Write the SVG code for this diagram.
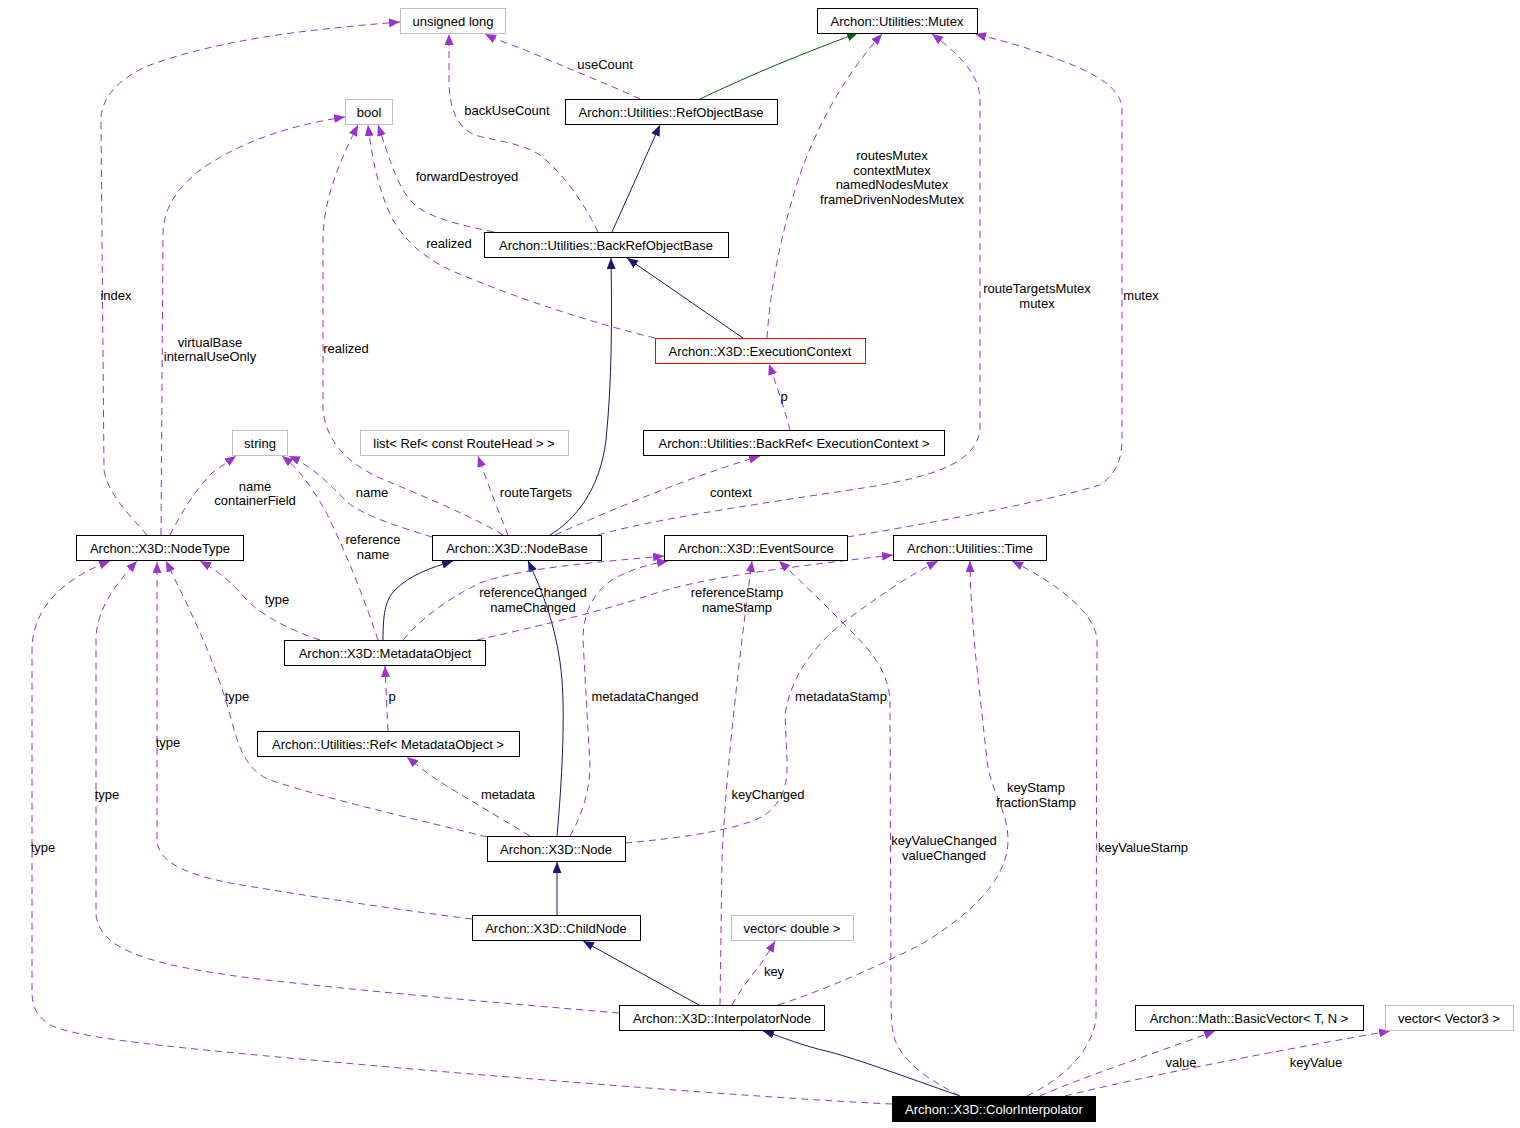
<svg xmlns="http://www.w3.org/2000/svg" width="1520" height="1128" viewBox="0 0 1520 1128">
<style>
text{font-family:"Liberation Sans",Arial,sans-serif;font-size:13px;fill:#000;}
.n rect{fill:#fff;stroke:#000;stroke-width:1;}
.n text{text-anchor:middle;dominant-baseline:central;}
.g rect{stroke:#bfbfbf;}
.r rect{stroke:#ff0000;}
.k rect{fill:#000;stroke:#000;}
.k text{fill:#fff;}
.u{fill:none;stroke:#9a32cd;stroke-width:1;stroke-dasharray:7,5;marker-end:url(#ap);}
.i{fill:none;stroke:#191970;stroke-width:1;marker-end:url(#an);}
.ig{fill:none;stroke:#006400;stroke-width:1;marker-end:url(#ag);}
.l text{text-anchor:middle;dominant-baseline:central;}
</style>
<defs>
<marker id="ap" markerUnits="userSpaceOnUse" markerWidth="11" markerHeight="9" viewBox="0 0 11 9" refX="11" refY="4.5" orient="auto"><path d="M0,0 L11,4.5 L0,9 z" fill="#9a32cd"/></marker>
<marker id="an" markerUnits="userSpaceOnUse" markerWidth="11" markerHeight="9" viewBox="0 0 11 9" refX="11" refY="4.5" orient="auto"><path d="M0,0 L11,4.5 L0,9 z" fill="#191970"/></marker>
<marker id="ag" markerUnits="userSpaceOnUse" markerWidth="11" markerHeight="9" viewBox="0 0 11 9" refX="11" refY="4.5" orient="auto"><path d="M0,0 L11,4.5 L0,9 z" fill="#006400"/></marker>
</defs>
<rect width="1520" height="1128" fill="#fff"/>
<g id="connectors">
<path class="ig" d="M700,99 C740,80 790,58 858,33"/>
<path class="i" d="M612,232 L660,125"/>
<path class="i" d="M743,338 L627,258"/>
<path class="i" d="M550,535 C575,520 600,490 606,440 C612,380 612,320 611,258"/>
<path class="i" d="M383,640 C383,615 385,600 395,590 C410,575 430,568 453,561"/>
<path class="i" d="M557,836 C562,780 565,720 562,680 C558,630 542,590 528,561"/>
<path class="i" d="M557,915 L557,862"/>
<path class="i" d="M699,1005 L583,941"/>
<path class="i" d="M960,1096 C900,1075 860,1060 830,1052 C800,1045 785,1038 763,1031"/>
<path class="u" d="M147,535 C130,515 108,495 104,470 L101,120 C101,100 115,80 150,65 C220,40 300,30 400,22"/>
<path class="u" d="M161,535 L163,235 C163,210 175,190 200,170 C240,142 290,125 345,117"/>
<path class="u" d="M503,535 C470,515 420,495 380,478 C345,462 326,440 323,410 L323,240 C323,200 340,160 358,125"/>
<path class="u" d="M494,232 C460,225 430,218 415,205 C398,190 390,160 378,125"/>
<path class="u" d="M655,338 C600,325 520,300 450,270 C420,255 405,240 393,220 C380,195 372,160 368,125"/>
<path class="u" d="M598,232 C585,205 565,175 540,155 C520,142 490,140 475,135 C458,128 450,110 449,85 L449,34"/>
<path class="u" d="M640,99 C610,85 560,65 530,52 C510,44 497,40 485,34"/>
<path class="u" d="M767,338 C770,290 780,240 795,190 C810,140 840,80 882,34"/>
<path class="u" d="M598,535 C650,520 750,505 850,490 C930,478 975,465 980,430 L980,100 C980,75 960,55 932,34"/>
<path class="u" d="M508,535 C500,515 490,490 478,456"/>
<path class="u" d="M555,535 C600,515 680,480 760,456"/>
<path class="u" d="M847,537 C950,520 1050,500 1100,485 C1115,475 1122,460 1122,440 L1122,110 C1122,90 1100,75 1060,60 C1030,48 1000,40 975,34"/>
<path class="u" d="M790,430 C785,410 778,390 769,364"/>
<path class="u" d="M170,535 C180,515 195,490 212,473 L236,456"/>
<path class="u" d="M432,537 C400,527 360,515 345,500 C330,485 315,468 289,456"/>
<path class="u" d="M378,640 C365,600 345,550 325,510 C310,485 300,470 282,456"/>
<path class="u" d="M320,640 C290,630 260,615 245,598 C232,583 220,572 200,561"/>
<path class="u" d="M403,640 C420,620 445,600 480,583 C520,568 600,562 664,556"/>
<path class="u" d="M477,640 C530,628 600,612 650,595 C700,578 780,568 893,555"/>
<path class="u" d="M388,731 C387,710 386,690 385,666"/>
<path class="u" d="M487,837 C420,820 330,800 270,780 C245,770 238,745 230,715 C215,660 190,610 166,561"/>
<path class="u" d="M530,836 C500,818 470,800 450,788 C430,776 418,766 407,757"/>
<path class="u" d="M570,836 C582,815 590,790 590,765 L583,640 C583,610 595,590 615,578 C635,568 650,564 668,561"/>
<path class="u" d="M625,843 C680,838 740,830 765,815 C785,800 788,780 787,760 L785,715 C790,680 810,650 840,625 C880,595 910,575 938,561"/>
<path class="u" d="M472,919 C400,910 300,895 230,883 C180,873 158,860 157,840 L157,562"/>
<path class="u" d="M619,1013 C500,1003 350,990 250,978 C150,965 100,950 96,915 L96,640 C96,610 115,585 137,561"/>
<path class="u" d="M892,1104 C800,1100 600,1085 400,1068 C200,1050 80,1040 50,1025 C35,1015 32,1005 32,990 L32,650 C32,610 60,580 110,561"/>
<path class="u" d="M720,1005 L722,860 C725,780 740,650 752,561"/>
<path class="u" d="M778,1005 C830,988 880,965 920,945 C970,915 1008,880 1008,840 C1008,810 990,790 987,760 L975,650 C972,610 970,590 970,561"/>
<path class="u" d="M732,1005 C740,990 752,975 760,965 C765,958 770,950 775,941"/>
<path class="u" d="M960,1096 C930,1080 905,1065 895,1040 C891,1030 891,1010 891,990 L890,700 C888,670 870,650 850,630 C825,605 800,580 779,561"/>
<path class="u" d="M1027,1096 C1060,1080 1090,1055 1096,1020 L1097,640 C1095,610 1050,580 1012,561"/>
<path class="u" d="M1040,1096 C1080,1078 1150,1055 1215,1031"/>
<path class="u" d="M1065,1096 C1150,1075 1280,1050 1390,1031"/>
<g class="l">
<text x="605" y="64">useCount</text>
<text x="507" y="110">backUseCount</text>
<text x="467" y="176">forwardDestroyed</text>
<text x="449" y="243">realized</text>
<text x="116" y="295">index</text>
<text x="210" y="342">virtualBase</text>
<text x="210" y="356">internalUseOnly</text>
<text x="346" y="348">realized</text>
<text x="892" y="155">routesMutex</text>
<text x="892" y="170">contextMutex</text>
<text x="892" y="184">namedNodesMutex</text>
<text x="892" y="199">frameDrivenNodesMutex</text>
<text x="1037" y="288">routeTargetsMutex</text>
<text x="1037" y="303">mutex</text>
<text x="1141" y="295">mutex</text>
<text x="784" y="396">p</text>
<text x="255" y="486">name</text>
<text x="255" y="500">containerField</text>
<text x="372" y="492">name</text>
<text x="536" y="492">routeTargets</text>
<text x="731" y="492">context</text>
<text x="373" y="539">reference</text>
<text x="373" y="554">name</text>
<text x="277" y="599">type</text>
<text x="533" y="592">referenceChanged</text>
<text x="533" y="607">nameChanged</text>
<text x="737" y="592">referenceStamp</text>
<text x="737" y="607">nameStamp</text>
<text x="392" y="696">p</text>
<text x="237" y="696">type</text>
<text x="645" y="696">metadataChanged</text>
<text x="841" y="696">metadataStamp</text>
<text x="168" y="742">type</text>
<text x="508" y="794">metadata</text>
<text x="107" y="794">type</text>
<text x="768" y="794">keyChanged</text>
<text x="1036" y="787">keyStamp</text>
<text x="1036" y="802">fractionStamp</text>
<text x="944" y="840">keyValueChanged</text>
<text x="944" y="855">valueChanged</text>
<text x="43" y="847">type</text>
<text x="1143" y="847">keyValueStamp</text>
<text x="774" y="971">key</text>
<text x="1181" y="1062">value</text>
<text x="1316" y="1062">keyValue</text>
</g>
</g>
<g id="n_ulong" class="n g"><rect x="400.5" y="8.5" width="105" height="25"/><text x="453" y="21">unsigned long</text></g>
<g id="n_mutex" class="n"><rect x="817.5" y="8.5" width="160" height="25"/><text x="897" y="21">Archon::Utilities::Mutex</text></g>
<g id="n_bool" class="n g"><rect x="345.5" y="99.5" width="47" height="25"/><text x="369" y="112">bool</text></g>
<g id="n_refobjectbase" class="n"><rect x="565.5" y="99.5" width="212" height="25"/><text x="671" y="112">Archon::Utilities::RefObjectBase</text></g>
<g id="n_backrefobjectbase" class="n"><rect x="484.5" y="232.5" width="244" height="25"/><text x="606" y="245">Archon::Utilities::BackRefObjectBase</text></g>
<g id="n_executioncontext" class="n r"><rect x="655.5" y="338.5" width="210" height="25"/><text x="760" y="351">Archon::X3D::ExecutionContext</text></g>
<g id="n_backref_ec" class="n"><rect x="643.5" y="430.5" width="301" height="25"/><text x="794" y="443">Archon::Utilities::BackRef&lt; ExecutionContext &gt;</text></g>
<g id="n_string" class="n g"><rect x="232.5" y="430.5" width="55" height="25"/><text x="260" y="443">string</text></g>
<g id="n_list" class="n g"><rect x="360.5" y="430.5" width="208" height="25"/><text x="464" y="443">list&lt; Ref&lt; const RouteHead &gt; &gt;</text></g>
<g id="n_nodetype" class="n"><rect x="76.5" y="535.5" width="167" height="25"/><text x="160" y="548">Archon::X3D::NodeType</text></g>
<g id="n_nodebase" class="n"><rect x="432.5" y="535.5" width="169" height="25"/><text x="517" y="548">Archon::X3D::NodeBase</text></g>
<g id="n_eventsource" class="n"><rect x="664.5" y="535.5" width="183" height="25"/><text x="756" y="548">Archon::X3D::EventSource</text></g>
<g id="n_time" class="n"><rect x="893.5" y="535.5" width="153" height="25"/><text x="970" y="548">Archon::Utilities::Time</text></g>
<g id="n_metadataobject" class="n"><rect x="284.5" y="640.5" width="201" height="25"/><text x="385" y="653">Archon::X3D::MetadataObject</text></g>
<g id="n_ref_mo" class="n"><rect x="257.5" y="731.5" width="262" height="25"/><text x="388" y="744">Archon::Utilities::Ref&lt; MetadataObject &gt;</text></g>
<g id="n_node" class="n"><rect x="487.5" y="836.5" width="138" height="25"/><text x="556" y="849">Archon::X3D::Node</text></g>
<g id="n_childnode" class="n"><rect x="472.5" y="915.5" width="168" height="25"/><text x="556" y="928">Archon::X3D::ChildNode</text></g>
<g id="n_vecdouble" class="n g"><rect x="731.5" y="915.5" width="122" height="25"/><text x="792" y="928">vector&lt; double &gt;</text></g>
<g id="n_interpolatornode" class="n"><rect x="619.5" y="1005.5" width="205" height="25"/><text x="722" y="1018">Archon::X3D::InterpolatorNode</text></g>
<g id="n_basicvector" class="n"><rect x="1135.5" y="1005.5" width="228" height="25"/><text x="1249" y="1018">Archon::Math::BasicVector&lt; T, N &gt;</text></g>
<g id="n_vecvector3" class="n g"><rect x="1385.5" y="1005.5" width="128" height="25"/><text x="1449" y="1018">vector&lt; Vector3 &gt;</text></g>
<g id="n_colorinterpolator" class="n k"><rect x="892.5" y="1096.5" width="203" height="25"/><text x="994" y="1109">Archon::X3D::ColorInterpolator</text></g>
</svg>
